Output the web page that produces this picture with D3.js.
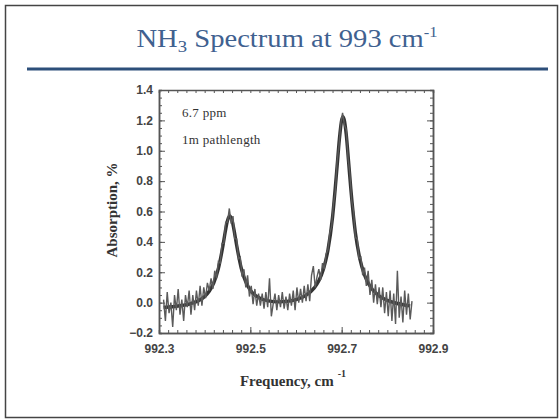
<!DOCTYPE html>
<html>
<head>
<meta charset="utf-8">
<script src="https://cdn.jsdelivr.net/npm/d3@7"></script>
<style>
  body { margin: 0; background: #fff; }
  svg { display: block; }
</style>
</head>
<body>
<svg id="chart"></svg>
<script>
// measured absorption, %, sampled every 0.004 cm-1 starting at 992.310
var freqStart = 992.310, freqStep = 0.004;
var absorption = [
   0.02, -0.12,  0.07, -0.07,  0.00, -0.16,  0.05, -0.05,  0.09, -0.08,
   0.02, -0.12,  0.05, -0.03,  0.08, -0.08,  0.05, -0.05,  0.08, -0.02,
   0.11, -0.02,  0.10,  0.03,  0.13,  0.08,  0.16,  0.09,  0.21,  0.16,
   0.27,  0.26,  0.39,  0.39,  0.53,  0.53,  0.62,  0.52,  0.57,  0.42,
   0.42,  0.29,  0.30,  0.17,  0.22,  0.10,  0.18,  0.04,  0.11, -0.01,
   0.09, -0.02,  0.06, -0.02,  0.06, -0.04,  0.07, -0.03,  0.16, -0.09,
  -0.01,  0.06, -0.05,  0.05, -0.03,  0.07, -0.04,  0.04, -0.05,  0.06,
  -0.02,  0.08, -0.05,  0.10,  0.00,  0.09,  0.00,  0.11,  0.01,  0.12,
   0.01,  0.18,  0.24,  0.10,  0.17,  0.22,  0.15,  0.26,  0.22,  0.32,
   0.35,  0.46,  0.50,  0.65,  0.73,  0.93,  1.03,  1.18,  1.25,  1.17,
   1.14,  0.95,  0.85,  0.67,  0.60,  0.43,  0.42,  0.29,  0.30,  0.18,
   0.23,  0.11,  0.21,  0.05,  0.15,  0.00,  0.12, -0.01,  0.10, -0.03,
   0.10, -0.07,  0.07, -0.09,  0.08, -0.12,  0.06, -0.14,  0.21, -0.10,
   0.04, -0.13,  0.08, -0.08,  0.06, -0.11,  0.01
];

// fitted line shape
var fitFreq = [992.31, 992.33, 992.35, 992.37, 992.39, 992.40, 992.41, 992.42, 992.43, 992.44,
  992.445, 992.45, 992.455, 992.46, 992.465, 992.47, 992.48, 992.49, 992.50, 992.51,
  992.52, 992.54, 992.56, 992.58, 992.60, 992.62, 992.64, 992.65, 992.66, 992.67,
  992.68, 992.69, 992.695, 992.70, 992.703, 992.71, 992.715, 992.72, 992.73, 992.74,
  992.75, 992.76, 992.78, 992.80, 992.82, 992.85];
var fitAbs = [-0.032, -0.027, -0.019, -0.006, 0.019, 0.041, 0.075, 0.130, 0.224, 0.375,
  0.465, 0.540, 0.570, 0.540, 0.466, 0.378, 0.228, 0.136, 0.082, 0.050,
  0.031, 0.011, 0.005, 0.008, 0.019, 0.044, 0.097, 0.144, 0.220, 0.347,
  0.562, 0.897, 1.077, 1.202, 1.225, 1.108, 0.933, 0.750, 0.461, 0.286,
  0.182, 0.118, 0.049, 0.015, -0.004, -0.021];

var xTicks = [992.3, 992.5, 992.7, 992.9];
var yTicks = [-0.2, 0.0, 0.2, 0.4, 0.6, 0.8, 1.0, 1.2, 1.4];
var notes = ["6.7 ppm", "1m pathlength"];

var W = 560, H = 420;
var margin = {top: 90, right: 127, bottom: 87, left: 159},
    width = W - margin.left - margin.right,
    height = H - margin.top - margin.bottom;

var serif = "'Liberation Serif', 'Times New Roman', serif";

var svg = d3.select("#chart").attr("width", W).attr("height", H);

// slide frame
svg.append("rect")
  .attr("x", 5.5).attr("y", 5.5)
  .attr("width", 552).attr("height", 412)
  .attr("fill", "none")
  .attr("stroke", "#444")
  .attr("stroke-width", 1.5);

// title (the scan is a little wider than the type)
var title = svg.append("text")
  .attr("transform", "translate(287, 47) scale(1.1, 1)")
  .attr("text-anchor", "middle")
  .style("font-family", serif)
  .style("font-size", "26px")
  .style("fill", "#3f6190");
title.append("tspan").text("NH");
title.append("tspan").attr("dy", 5).style("font-size", "17px").text("3");
title.append("tspan").attr("dy", -5).text(" Spectrum at 993 cm");
title.append("tspan").attr("dy", -10).style("font-size", "15px").text("-1");

svg.append("line")
  .attr("x1", 27).attr("x2", 548)
  .attr("y1", 69).attr("y2", 69)
  .attr("stroke", "#2d4f7a")
  .attr("stroke-width", 3);

var g = svg.append("g")
  .attr("transform", `translate(${margin.left}, ${margin.top})`);

var x = d3.scaleLinear().domain([992.3, 992.9]).range([0, width]);
var y = d3.scaleLinear().domain([-0.2, 1.4]).range([height, 0]);

// minor ticks on all four sides
var xMinor = d3.range(0, 31).map(function(i) { return 992.3 + i * 0.02; });
var yMinor = d3.range(0, 33).map(function(i) { return -0.2 + i * 0.05; });

function styleAxis(sel) {
  sel.select(".domain").attr("stroke", "#555").attr("stroke-width", 1.5);
  sel.selectAll(".tick line").attr("stroke", "#555");
  sel.selectAll("text")
    .style("font-family", "'Liberation Sans', Arial, sans-serif")
    .style("font-size", "12px")
    .style("font-weight", "bold")
    .style("fill", "#444");
}

g.append("g").attr("transform", `translate(0, ${height})`)
  .call(d3.axisBottom(x).tickValues(xMinor).tickSize(-3).tickFormat(""))
  .call(styleAxis);
g.append("g")
  .call(d3.axisTop(x).tickValues(xMinor).tickSize(-3).tickFormat(""))
  .call(styleAxis);
g.append("g")
  .call(d3.axisLeft(y).tickValues(yMinor).tickSize(-3).tickFormat(""))
  .call(styleAxis);
g.append("g").attr("transform", `translate(${width}, 0)`)
  .call(d3.axisRight(y).tickValues(yMinor).tickSize(-3).tickFormat(""))
  .call(styleAxis);

g.append("g").attr("transform", `translate(0, ${height})`)
  .call(d3.axisBottom(x).tickValues(xTicks).tickSizeInner(-6).tickSizeOuter(0).tickPadding(11).tickFormat(d3.format(".1f")))
  .call(styleAxis);
g.append("g")
  .call(d3.axisLeft(y).tickValues(yTicks).tickSizeInner(-6).tickSizeOuter(0).tickPadding(6).tickFormat(d3.format(".1f")))
  .call(styleAxis);
g.append("g").attr("transform", `translate(${width}, 0)`)
  .call(d3.axisRight(y).tickValues(yTicks).tickSizeInner(-6).tickSizeOuter(0).tickFormat(""))
  .call(styleAxis);

// fit, drawn under the measurement
var fitLine = d3.line()
  .x(function(d, i) { return x(fitFreq[i]); })
  .y(function(d) { return y(d); })
  .curve(d3.curveMonotoneX);

g.append("path")
  .datum(fitAbs)
  .attr("fill", "none")
  .attr("stroke", "#333")
  .attr("stroke-width", 3.4)
  .attr("d", fitLine);

// noisy measurement
var line = d3.line()
  .x(function(d, i) { return x(freqStart + i * freqStep); })
  .y(function(d) { return y(d); });

g.append("path")
  .datum(absorption)
  .attr("fill", "none")
  .attr("stroke", "#5a5a5a")
  .attr("stroke-width", 1.4)
  .attr("d", line);

// annotations
g.selectAll(".note")
  .data(notes)
  .enter()
  .append("text")
    .attr("class", "note")
    .attr("x", 23)
    .attr("y", function(d, i) { return 27 + i * 27; })
    .style("font-family", serif)
    .style("font-size", "13px")
    .style("letter-spacing", "0.3px")
    .style("fill", "#333")
    .text(function(d) { return d; });

// axis labels
var xl = svg.append("text")
  .attr("x", 293).attr("y", 386)
  .attr("text-anchor", "middle")
  .style("font-family", serif)
  .style("font-size", "15px")
  .style("font-weight", "bold")
  .style("fill", "#333");
xl.append("tspan").text("Frequency, cm");
xl.append("tspan").attr("dx", 4).attr("dy", -9).style("font-size", "10px").text("-1");

svg.append("text")
  .attr("transform", "translate(117, 210) rotate(-90)")
  .attr("text-anchor", "middle")
  .style("font-family", serif)
  .style("font-size", "15px")
  .style("font-weight", "bold")
  .style("fill", "#333")
  .text("Absorption, %");
</script>
</body>
</html>
